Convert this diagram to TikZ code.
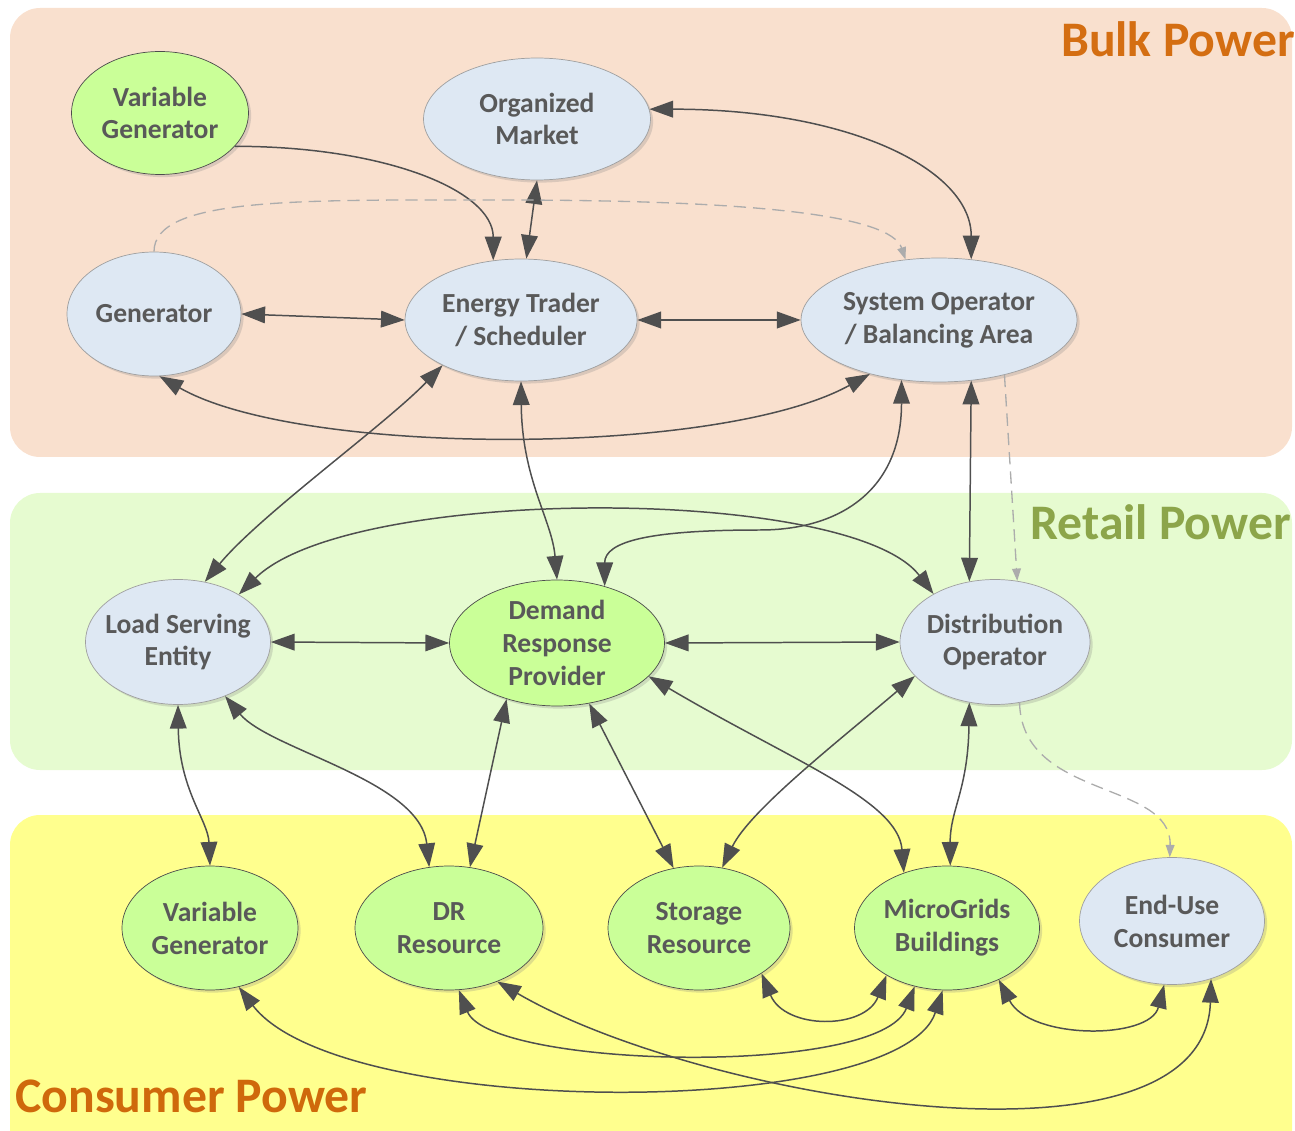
\documentclass[tikz,border=0pt]{standalone}
\usepackage{fontspec}
\setmainfont{Carlito}
\usepackage{tikz}
\usetikzlibrary{arrows.meta, shapes, shadows}
\usetikzlibrary{positioning,fit,calc}
\definecolor{bulkbg}{HTML}{F9E0CE}
\definecolor{retailbg}{HTML}{E6FBD0}
\definecolor{consumerbg}{HTML}{FFFF8E}
\definecolor{bulkfg}{HTML}{D46E12}
\definecolor{retailfg}{HTML}{8CA54A}
\definecolor{consumerfg}{HTML}{CF690B}
\definecolor{partyfill}{HTML}{DEE8F3}
\definecolor{greenfill}{HTML}{CAFF98}
\definecolor{labelgray}{HTML}{595959}
\definecolor{wiregray}{HTML}{4F4F4F}
\tikzset{
        party/.style={ellipse, draw=gray!75, fill=partyfill, text=labelgray, align=center, inner sep=-5pt, minimum width=3.7cm, minimum height=2.48cm, font=\bfseries\fontsize{15.7pt}{18.7pt}\selectfont, drop shadow={shadow xshift=1.5pt, shadow yshift=-1.5pt, opacity=0.25}},
        asset/.style={party, draw=black!70, fill=greenfill},
        area/.style={anchor=base west, inner sep=0pt, font=\bfseries\fontsize{28.3pt}{32pt}\selectfont},
        link/.style={draw=wiregray, line width=0.85pt},
        hint/.style={draw=gray!65, line width=0.75pt, dash pattern=on 7pt off 4pt, -{Triangle[length=7pt, width=5pt]}}
    }
\begin{document}
\begin{tikzpicture}[x=0.02cm, y=-0.02cm, >={Triangle[length=13.5pt, width=9.5pt]}]
    \useasboundingbox (0,0) rectangle (1295,1131);

    % background bands
    \fill[bulkbg, rounded corners=0.6cm] (10,8) rectangle (1292,457);
    \fill[retailbg, rounded corners=0.6cm] (10,493) rectangle (1292,770);
    \fill[consumerbg, rounded corners=0.6cm] (10,815) rectangle (1292,1160);

    \node[area, anchor=base east, text=bulkfg] (bulk) at (1295,57) {Bulk Power};
    \node[area, text=retailfg] (retail) at (1030,540) {Retail Power};
    \node[area, text=consumerfg] (consumer) at (15,1112) {Consumer Power};

    % bulk power parties
    \node[asset, minimum width=3.54cm, minimum height=2.46cm] (vgtop) at (160,113) {Variable\\Generator};
    \node[party, minimum width=4.54cm, minimum height=2.44cm] (market) at (537,119) {Organized\\Market};
    \node[party, minimum width=3.48cm] (gen) at (154,314) {Generator};
    \node[party, minimum width=4.64cm, minimum height=2.44cm] (trader) at (521,320) {Energy Trader\\/ Scheduler};
    \node[party, minimum width=5.52cm] (sysop) at (939,320) {System Operator\\/ Balancing Area};

    % retail power parties
    \node[party, minimum height=2.5cm] (lse) at (178,642) {Load Serving\\Entity};
    \node[asset, minimum width=4.3cm, minimum height=2.52cm] (drp) at (557,643) {Demand\\Response\\Provider};
    \node[party, minimum width=3.8cm, minimum height=2.5cm] (distop) at (995,642) {Distribution\\Operator};

    % consumer power parties
    \node[asset, minimum width=3.52cm] (vgbot) at (210,928) {Variable\\Generator};
    \node[asset, minimum width=3.76cm] (drres) at (449,928) {DR\\Resource};
    \node[asset, minimum width=3.64cm] (storage) at (699,928) {Storage\\Resource};
    \node[asset] (micro) at (947,928) {MicroGrids\\Buildings};
    \node[party, minimum height=2.54cm] (enduse) at (1172,921) {End-Use\\Consumer};

    % bulk power connections
    \draw[link, ->] (vgtop.-24) .. controls +(150,0) and +(0,-70) .. (trader.115);
    \draw[link, <->] (market.-90) -- (trader.85);
    \draw[link, <->] (market.5) .. controls +(200,0) and +(0,-90) .. (sysop.62);
    \draw[hint] (gen.north) .. controls +(0,-55) and +(-200,0) .. (500,200) .. controls +(250,0) and +(-15,-45) .. (sysop.119);
    \draw[link, <->] (gen.east) -- (trader.west);
    \draw[link, <->] (trader.east) -- (sysop.west);
    \draw[link, <->] (gen.-85) .. controls (300,457) and (720,457) .. (sysop.-142);

    % bulk to retail connections
    \draw[link, <->] (lse.66) .. controls (260,515) and (385,425) .. (trader.-150);
    \draw[link, <->] (trader.-90) .. controls (522,480) and (552,520) .. (drp.90);
    \draw[link, <->] (sysop.-122) .. controls +(0,110) and +(80,0) .. (760,530) .. controls +(-110,0) and +(0,-45) .. (drp.50);
    \draw[link, <->] (sysop.-62) -- (distop.113);
    \draw[hint] (sysop.-40) -- (distop.70);

    % retail power connections
    \draw[link, <->] (lse.38) .. controls (350,485) and (850,485) .. (distop.142);
    \draw[link, <->] (lse.east) -- (drp.west);
    \draw[link, <->] (drp.east) -- (distop.west);

    % retail to consumer connections
    \draw[link, <->] (lse.-90) .. controls (179,790) and (208,820) .. (vgbot.90);
    \draw[link, <->] (lse.-49) .. controls (270,750) and (420,780) .. (drres.108);
    \draw[link, <->] (drp.-132) -- (drres.71);
    \draw[link, <->] (drp.-62) -- (storage.113);
    \draw[link, <->] (drp.-20) .. controls (790,760) and (898,800) .. (micro.128);
    \draw[link, <->] (distop.-157) .. controls (840,740) and (750,810) .. (storage.69);
    \draw[link, <->] (distop.-113) .. controls (968,790) and (950,810) .. (micro.87);
    \draw[hint] (distop.-68) .. controls (1022,800) and (1172,780) .. (enduse.92);

    % consumer power connections
    \draw[link, <->] (storage.-36) .. controls (785,1030) and (865,1030) .. (micro.-142);
    \draw[link, <->] (micro.-45) .. controls (1030,1040) and (1150,1040) .. (enduse.-97);
    \draw[link, <->] (vgbot.-64) .. controls (340,1120) and (900,1120) .. (micro.-94);
    \draw[link, <->] (drres.-81) .. controls (490,1068) and (880,1078) .. (micro.-119);
    \draw[link, <->] (drres.-48) .. controls (700,1100) and (1205,1185) .. (enduse.-56);

\end{tikzpicture}
\end{document}
